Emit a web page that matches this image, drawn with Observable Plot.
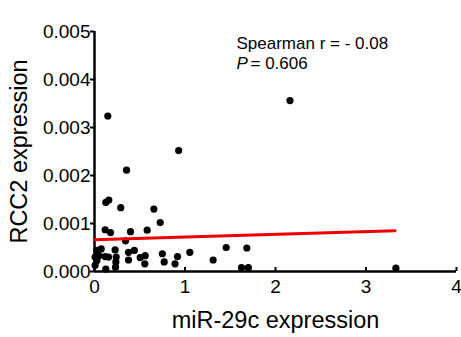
<!DOCTYPE html>
<html>
<head>
<meta charset="utf-8">
<script src="https://cdn.jsdelivr.net/npm/d3@7"></script>
<script src="https://cdn.jsdelivr.net/npm/@observablehq/plot@0.6"></script>
<style>
  html, body { margin: 0; padding: 0; background: #fff; }
  svg { font-family: "Liberation Sans", Arial, sans-serif; }
  svg text { font-weight: normal; stroke: none; }
</style>
</head>
<body>
<div id="chart"></div>
<script>
const miR29c = [0.147, 2.16, 0.93, 0.354, 0.125, 0.158, 0.29, 0.656, 0.726, 0.118,
  0.177, 0.398, 0.582, 0.343, 1.455, 1.683, 1.053, 1.311, 1.624, 1.70,
  3.33, 0.75, 0.77, 0.917, 0.89, 0.56, 0.556, 0.505, 0.44, 0.376,
  0.376, 0.228, 0.24, 0.236, 0.232, 0.125, 0.155, 0.118, 0.074, 0.026,
  0.007, 0.026, 0.048, 0.007];
const RCC2 = [0.00324, 0.00356, 0.00252, 0.00211, 0.00144, 0.00149, 0.00133, 0.00130, 0.00102, 0.00087,
  0.00081, 0.00083, 0.00086, 0.00064, 0.00050, 0.00049, 0.00040, 0.00024, 0.00008, 0.00008,
  0.00007, 0.00037, 0.00020, 0.00031, 0.00016, 0.00033, 0.00016, 0.00029, 0.00044, 0.00040,
  0.00024, 0.00045, 0.00030, 0.00020, 0.00009, 0.00005, 0.00030, 0.00031, 0.00047, 0.00044,
  0.00030, 0.00023, 0.00033, 0.00013];
const fitX = [0, 3.32];
const fitY = [0.00066, 0.00085];
const xTicks = [0, 1, 2, 3, 4];
const yTicks = [0, 0.001, 0.002, 0.003, 0.004, 0.005];
const xLabel = "miR-29c expression";
const yLabel = "RCC2 expression";
const note1 = "Spearman r = - 0.08";
const note2 = "P";
const note2b = "= 0.606";

const points = miR29c.map((x, i) => ({x, y: RCC2[i]}));
const fit = fitX.map((x, i) => ({x, y: fitY[i]}));

const chart = Plot.plot({
  width: 461,
  height: 337,
  marginLeft: 94,
  marginRight: 5,
  marginTop: 31,
  marginBottom: 66,
  style: {fontFamily: '"Liberation Sans", Arial, sans-serif', background: "#fff", color: "#000"},
  x: {domain: [0, 4]},
  y: {domain: [0, 0.005]},
  marks: [
    Plot.axisX({ticks: xTicks, tickSize: -4, tickPadding: 12, fontSize: 19,
      label: xLabel, labelAnchor: "center", labelOffset: 56, labelArrow: "none", tickFormat: d3.format("d")}),
    Plot.axisY({ticks: yTicks, tickSize: 4, tickPadding: 0, fontSize: 19,
      label: yLabel, labelAnchor: "center", labelOffset: 84, labelArrow: "none", tickFormat: d3.format(".3f")}),
    Plot.ruleY([0], {stroke: "#000", strokeWidth: 2.5}),
    Plot.ruleX([0], {stroke: "#000", strokeWidth: 2.5}),
    Plot.dot(points, {x: "x", y: "y", r: 3.6, fill: "#000", stroke: "none"}),
    Plot.line(fit, {x: "x", y: "y", stroke: "#ee0000", strokeWidth: 3}),
    Plot.text([note1], {frameAnchor: "top-left", dx: 142, dy: 17, text: d => d, textAnchor: "start", lineAnchor: "bottom", fontSize: 17, fill: "#000"}),
    Plot.text([note2], {frameAnchor: "top-left", dx: 142, dy: 37, text: d => d, textAnchor: "start", lineAnchor: "bottom", fontSize: 17, fontStyle: "italic", fill: "#000"}),
    Plot.text([note2b], {frameAnchor: "top-left", dx: 156, dy: 37, text: d => d, textAnchor: "start", lineAnchor: "bottom", fontSize: 17, fill: "#000"})
  ]
});

chart.querySelectorAll('[aria-label="x-axis tick"], [aria-label="y-axis tick"]').forEach(g => {
  g.setAttribute("stroke-width", "2");
});
chart.querySelectorAll('[aria-label="x-axis label"], [aria-label="y-axis label"]').forEach(g => {
  g.setAttribute("font-size", "23.5");
});

document.getElementById("chart").appendChild(chart);
</script>
</body>
</html>
